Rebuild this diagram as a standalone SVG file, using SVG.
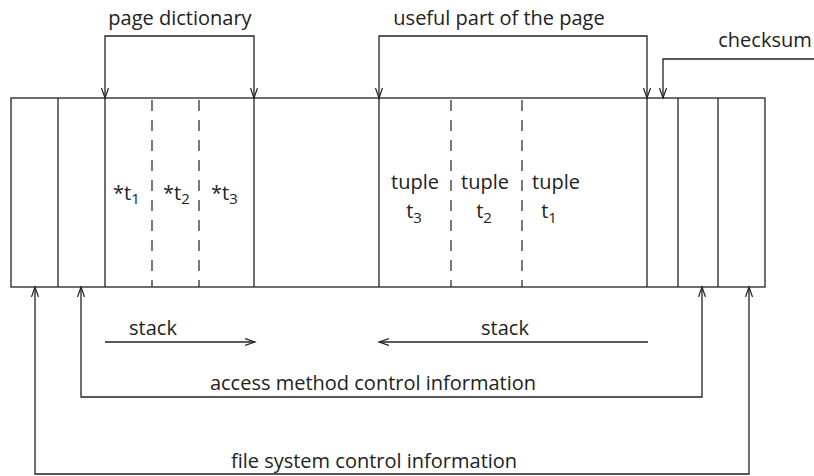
<svg xmlns="http://www.w3.org/2000/svg" width="814" height="476" viewBox="0 0 814 476">
<style>
.ln{stroke:#222;stroke-width:1.3;fill:none}
.ds{stroke:#222;stroke-width:1.2;fill:none;stroke-dasharray:11 9}
.ar{stroke:#222;stroke-width:1.3;fill:none;marker-end:url(#ah)}
.ar2{stroke:#222;stroke-width:1.3;fill:none;marker-end:url(#ah);marker-start:url(#ah)}
text{font-family:"Open Sans","DejaVu Sans",sans-serif;font-size:20px;fill:#222}
.m{text-anchor:middle}
.sub{font-size:15px}
</style>
<defs>
<marker id="ah" markerUnits="userSpaceOnUse" markerWidth="12" markerHeight="10" refX="10" refY="4" orient="auto-start-reverse" viewBox="0 0 12 10">
<path d="M0,0.5 L10,4 L0,7.5" fill="none" stroke="#222" stroke-width="1.2"/>
</marker>
</defs>
<g id="page">
<rect class="ln" x="11" y="98" width="754" height="189"/>
<line class="ln" x1="58" y1="98" x2="58" y2="287"/>
<line class="ln" x1="105" y1="98" x2="105" y2="287"/>
<line class="ds" x1="152" y1="100" x2="152" y2="287"/>
<line class="ds" x1="199" y1="100" x2="199" y2="287"/>
<line class="ln" x1="254" y1="98" x2="254" y2="287"/>
<line class="ln" x1="379" y1="98" x2="379" y2="287"/>
<line class="ds" x1="451" y1="100" x2="451" y2="287"/>
<line class="ds" x1="522" y1="100" x2="522" y2="287"/>
<line class="ln" x1="647" y1="98" x2="647" y2="287"/>
<line class="ln" x1="678" y1="98" x2="678" y2="287"/>
<line class="ln" x1="718" y1="98" x2="718" y2="287"/>
</g>
<g id="dict-entries">
<text x="113" y="200">*t<tspan class="sub" dy="4">1</tspan></text>
<text x="163" y="200">*t<tspan class="sub" dy="4">2</tspan></text>
<text x="211" y="200">*t<tspan class="sub" dy="4">3</tspan></text>
</g>
<g id="tuples">
<text class="m" x="415" y="189">tuple</text>
<text class="m" x="414" y="218">t<tspan class="sub" dy="5">3</tspan></text>
<text class="m" x="485" y="189">tuple</text>
<text class="m" x="484" y="218">t<tspan class="sub" dy="5">2</tspan></text>
<text class="m" x="556" y="189">tuple</text>
<text class="m" x="549" y="218">t<tspan class="sub" dy="5">1</tspan></text>
</g>
<g id="labels">
<text class="m" x="180" y="25">page dictionary</text>
<text class="m" x="499" y="25">useful part of the page</text>
<text class="m" x="765" y="47">checksum</text>
<text class="m" x="153" y="335">stack</text>
<text class="m" x="505" y="335">stack</text>
<text class="m" x="373" y="390">access method control information</text>
<text class="m" x="374" y="468">file system control information</text>
</g>
<g id="connectors">
<path class="ar2" d="M105,98 V36 H254 V98"/>
<path class="ar2" d="M379,98 V36 H647 V98"/>
<path class="ar" d="M814,59 H663 V98"/>
<path class="ar" d="M105,342 H255"/>
<path class="ar" d="M648,342 H379"/>
<path class="ar2" d="M81,287 V397 H702 V287"/>
<path class="ar2" d="M35,287 V474 H749 V287"/>
</g>
</svg>
